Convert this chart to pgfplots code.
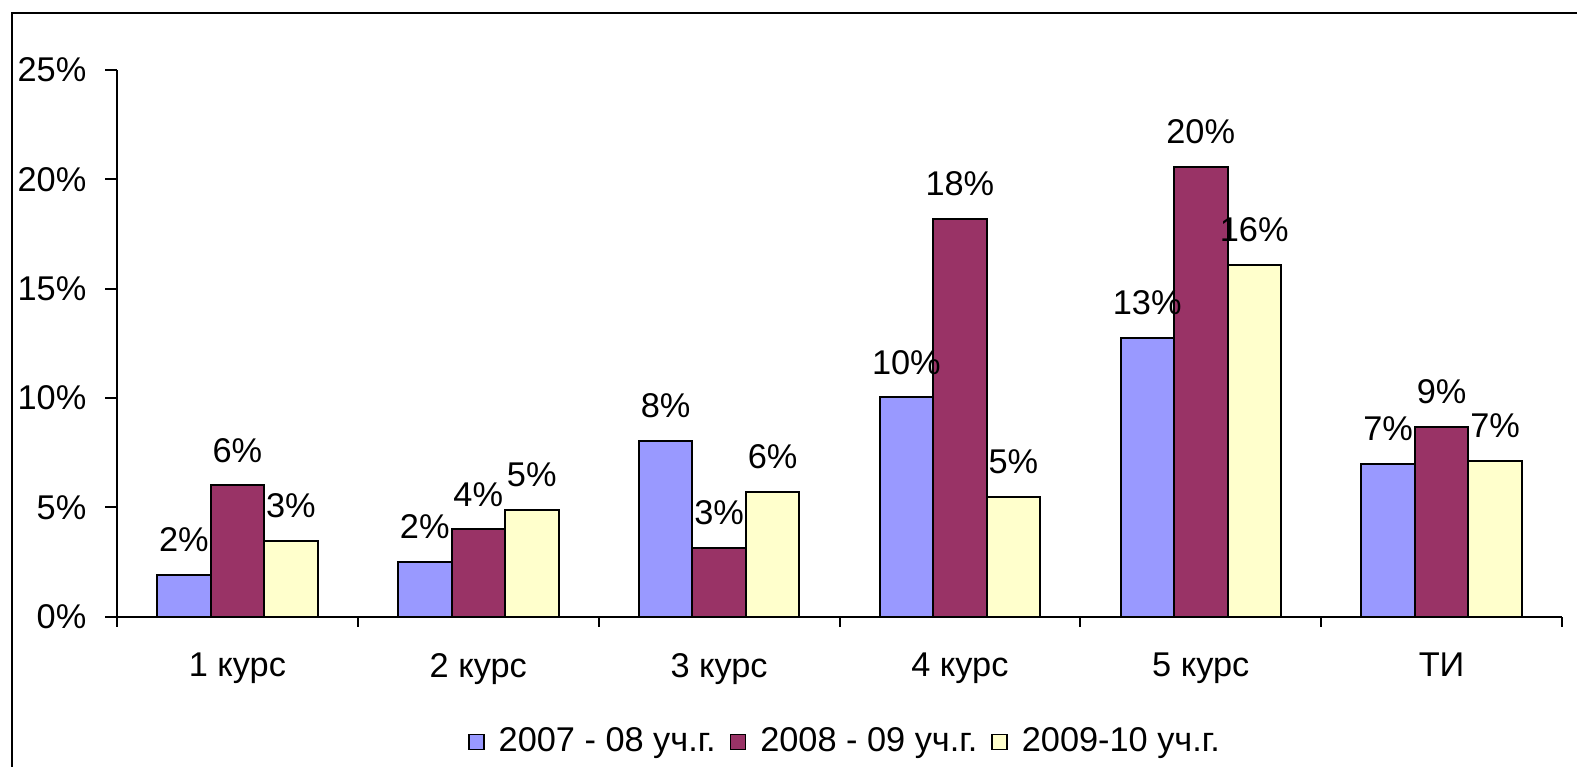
\documentclass[border=0pt]{standalone}
\usepackage{pgfplots}
\pgfplotsset{compat=1.18}
\usepackage{fontspec}
\setmainfont{Liberation Sans}
\definecolor{cblue}{HTML}{9999FF}
\definecolor{cred}{HTML}{993366}
\definecolor{cyel}{HTML}{FFFFCC}
\begin{document}
\begin{tikzpicture}[font=\fontsize{10.3}{12}\selectfont]
\useasboundingbox (-35.1pt,-45.09pt) rectangle (438pt,185pt);
\draw[line width=0.6pt] (-31.35pt,-45.09pt) -- (-31.35pt,181.0pt) -- (438pt,181.0pt);
\begin{axis}[
  at={(0,0)}, anchor=south west,
  scale only axis,
  width=433.5pt, height=164pt,
  ybar=0pt, bar width=16.05pt,
  xmin=-0.5, xmax=5.5,
  ymin=0, ymax=25,
  axis x line*=bottom, axis y line*=left,
  axis line style={black, line width=0.6pt},
  tick align=outside,
  major tick length=3.6pt,
  minor tick length=3pt,
  xtick={0,1,2,3,4,5},
  xticklabels={1 курс,2 курс,3 курс,4 курс,5 курс,ТИ},
  minor xtick={-0.5,0.5,1.5,2.5,3.5,4.5,5.5},
  major x tick style={draw=none},
  minor x tick style={black, line width=0.6pt},
  ytick={0,5,10,15,20,25},
  yticklabels={0\%,5\%,10\%,15\%,20\%,25\%},
  y tick style={black, line width=0.6pt},
  xticklabel style={inner sep=0pt, anchor=north},
  yticklabel style={inner sep=0pt, anchor=east},
  xticklabel shift=7.2pt,
  yticklabel shift=5.4pt,
  point meta=explicit symbolic,
  nodes near coords={\pgfplotspointmeta\%},
  every node near coord/.append style={anchor=south, inner sep=0pt, yshift=6.6pt, black},
  legend columns=3,
  legend style={at={(0.5045,-0.2293)}, anchor=center, draw=none, fill=none, inner sep=0pt,
    column sep=3pt, nodes={inner sep=1.2pt}},
  legend cell align=left,
  sq/.style={legend image code/.code={\draw[##1, line width=0.45pt] (0pt,-2.25pt) rectangle (4.5pt,2.25pt);}},
]
\addplot[fill=cblue, draw=black, line width=0.6pt, sq] coordinates {
  (0,1.9) [2] (1,2.5) [2] (2,8.03) [8] (3,10.03) [10] (4,12.73) [13] (5,7.0) [7]};
\addplot[fill=cred, draw=black, line width=0.6pt, sq] coordinates {
  (0,6.0) [6] (1,4.0) [4] (2,3.13) [3] (3,18.2) [18] (4,20.58) [20] (5,8.69) [9]};
\addplot[fill=cyel, draw=black, line width=0.6pt, sq] coordinates {
  (0,3.45) [3] (1,4.9) [5] (2,5.72) [6] (3,5.46) [5] (4,16.1) [16] (5,7.13) [7]};
\legend{2007 - 08 уч.г.,2008 - 09 уч.г.,2009-10 уч.г.}
\end{axis}
\end{tikzpicture}
\end{document}
